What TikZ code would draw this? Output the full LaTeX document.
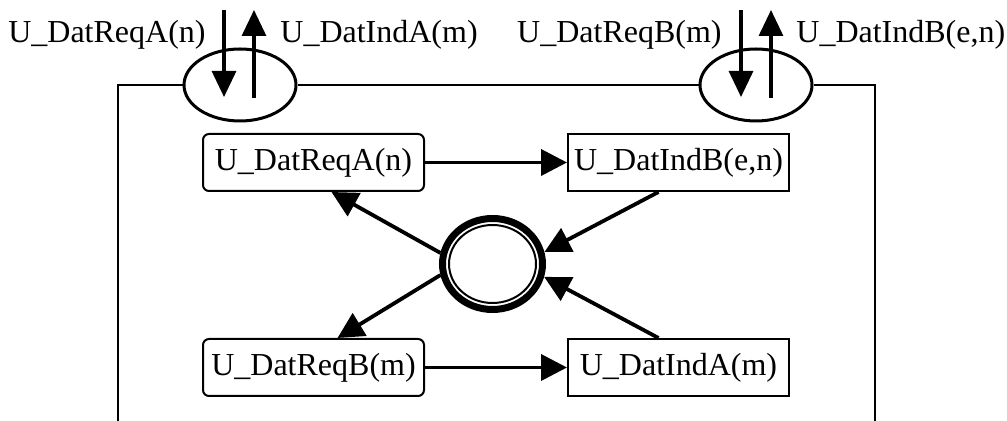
\documentclass[tikz,border=0pt]{standalone}
\usepackage{fontspec}
\setmainfont{Liberation Serif}
\usetikzlibrary{arrows.meta,shapes.geometric}

\begin{document}
\begin{tikzpicture}[x=0.5pt,y=-0.5pt,
  font=\fontsize{16}{19}\selectfont,
  box/.style={draw,line width=1pt,minimum width=110.5pt,minimum height=28.5pt,inner sep=0pt},
  rbox/.style={box,rounded corners=3pt},
  port/.style={draw,ellipse,line width=1.5pt,minimum width=56pt,minimum height=36pt,inner sep=0pt},
  lbl/.style={inner sep=0pt},
  flow/.style={line width=1.9pt,-{Triangle[length=13pt,width=13pt]}},
  sig/.style={line width=1.6pt,-{Triangle[length=13pt,width=12pt]}}]
\useasboundingbox (0,0) rectangle (1007,421);

\node[port] (portA) at (240,85) {};
\node[port] (portB) at (756,85) {};
\draw[line width=1pt] (118,421) |- (portA.west);
\draw[line width=1pt] (portA.east) -- (portB.west);
\draw[line width=1pt] (portB.east) -| (875,421);

\coordinate (inA) at (224,10);
\coordinate (inAend) at (224,97);
\coordinate (outA) at (254,98);
\coordinate (outAend) at (254,10);
\coordinate (inB) at (741,10);
\coordinate (inBend) at (741,97);
\coordinate (outB) at (771,98);
\coordinate (outBend) at (771,10);
\draw[sig] (inA) -- (inAend);
\draw[sig] (outA) -- (outAend);
\draw[sig] (inB) -- (inBend);
\draw[sig] (outB) -- (outBend);

\node[lbl,anchor=base east] (lblReqA) at (206,43) {U\_DatReqA(n)};
\node[lbl,anchor=base west] (lblIndA) at (280,43) {U\_DatIndA(m)};
\node[lbl,anchor=base east] (lblReqB) at (722,43) {U\_DatReqB(m)};
\node[lbl,anchor=base west] (lblIndB) at (796,43) {U\_DatIndB(e,n)};

\node[rbox] (reqA) at (313.5,162.5) {U\_DatReqA(n)};
\node[box] (indB) at (678.5,162.5) {U\_DatIndB(e,n)};
\node[rbox] (reqB) at (313.5,367.5) {U\_DatReqB(m)};
\node[box] (indA) at (678.5,367.5) {U\_DatIndA(m)};

\node[draw,ellipse,line width=3.5pt,minimum width=50pt,minimum height=45.5pt,inner sep=0pt] (hub) at (492.5,264) {};
\draw[line width=1pt] (hub.center) ellipse [x radius=21.75pt,y radius=19.5pt];

\draw[flow] (reqA) -- (indB);
\draw[flow] (reqB) -- (indA);
\draw[flow] ([xshift=-10pt]indB.south) -- (hub.13);
\draw[flow] (hub.168) -- ([xshift=9pt]reqA.south);
\draw[flow] (hub.192) -- ([xshift=12pt]reqB.north);
\draw[flow] ([xshift=-10pt]indA.north) -- (hub.-14);
\end{tikzpicture}
\end{document}
